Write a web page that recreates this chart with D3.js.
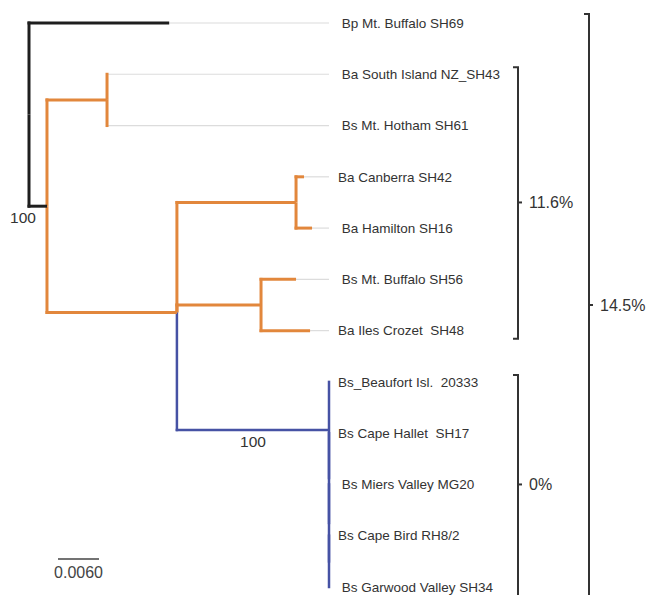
<!DOCTYPE html>
<html>
<head>
<meta charset="utf-8">
<script src="https://cdn.jsdelivr.net/npm/d3@7"></script>
<style>
  html, body { margin: 0; padding: 0; background: #fff; }
  svg { display: block; font-family: "Liberation Sans", Arial, Helvetica, sans-serif; }
  text { white-space: pre; }
</style>
</head>
<body>
<svg id="chart" width="647" height="595"></svg>
<script>
// ---- Tree data (parent table, branch lengths in substitutions/site) ----
const nodeIds   = ["root","Bp69","ingroup","cladeA","SI43","Hot61","X","CH","Can42","Ham16","BC","Buf56","Cro48","Ant","Beau","AntB","Hal17","AntC","Mie20","AntD","Bird","Gar34"];
const parentIds = ["",    "root","root",   "ingroup","cladeA","cladeA","ingroup","X","CH","CH","X","BC","BC","X","Ant","Ant","AntB","AntB","AntC","AntC","AntD","AntD"];
const branchLen = [0,     0.0205, 0.00263, 0.00878, 0,     0,      0.0190, 0.01742, 0.00117, 0.00234, 0.0123, 0.00512, 0.00717, 0.02224, 0, 0, 0, 0, 0, 0, 0, 0];
const cladeOf   = ["outgroup","outgroup","outgroup","southern","southern","southern","southern","southern","southern","southern","southern","southern","southern","antarctic","antarctic","antarctic","antarctic","antarctic","antarctic","antarctic","antarctic","antarctic"];

// leaf labels (in leaf order)
const leafIds    = ["Bp69","SI43","Hot61","Can42","Ham16","Buf56","Cro48","Beau","Hal17","Mie20","Bird","Gar34"];
const leafLabels = [" Bp Mt. Buffalo SH69"," Ba South Island NZ_SH43"," Bs Mt. Hotham SH61","Ba Canberra SH42"," Ba Hamilton SH16"," Bs Mt. Buffalo SH56","Ba Iles Crozet  SH48","Bs_Beaufort Isl.  20333","Bs Cape Hallet  SH17"," Bs Miers Valley MG20","Bs Cape Bird RH8/2"," Bs Garwood Valley SH34"];

// bootstrap labels
const bootNodes  = ["ingroup","Ant"];
const bootValues = ["100","100"];

// bracket annotations (genetic distance)
const bracketLabels = ["11.6%","14.5%","0%"];
const bracketFirst  = ["SI43","Bp69","Beau"];
const bracketLast   = ["Cro48","Gar34","Gar34"];
const bracketLevel  = [0,1,0];

// scale bar
const scaleBarValue = 0.006;
const scaleBarLabel = "0.0060";

// ---- Build ----
const svg = d3.select("#chart");
const rows = nodeIds.map((id,i)=>({id, parent: parentIds[i] || null, len: branchLen[i], clade: cladeOf[i]}));
const root = d3.stratify().id(d=>d.id).parentId(d=>d.parent)(rows);

const leafOrder = new Map(leafIds.map((d,i)=>[d,i]));
root.eachAfter(n=>{
  n.minLeaf = n.children ? d3.min(n.children, c=>c.minLeaf) : leafOrder.get(n.id);
  if (n.children) n.children.sort((a,b)=>a.minLeaf-b.minLeaf);
});
root.eachBefore(n=>{ n.depthLen = n.parent ? n.parent.depthLen + n.data.len : 0; });

const x = d3.scaleLinear().domain([0, d3.max(root.leaves(), d=>d.depthLen)]).range([29, 329]);
const y = d3.scalePoint().domain(leafIds).range([23, 587]);

root.eachAfter(n=>{
  n.py = n.children ? d3.mean(n.children, c=>c.py) : y(n.id);
  n.px = x(n.depthLen);
});

const color = d3.scaleOrdinal().domain(["outgroup","southern","antarctic"]).range(["#1e1e1e","#e2873c","#4652a4"]);
const width = d3.scaleOrdinal().domain(["outgroup","southern","antarctic"]).range([3,3,2.5]);

const gTree = svg.append("g");
const nodes = root.descendants().filter(n=>n.parent);

// leader lines from leaf tips to label column
gTree.selectAll("line.leader").data(root.leaves().filter(l=>l.px < x.range()[1]-0.5))
  .join("line").attr("class","leader")
  .attr("x1", d=>d.px).attr("x2", x.range()[1])
  .attr("y1", d=>d.py).attr("y2", d=>d.py)
  .attr("stroke","#dcdcdc").attr("stroke-width",1.2);

// vertical parts (butt caps, extended by half width at the child corner)
gTree.selectAll("line.v").data(nodes.filter(d=>Math.abs(d.py - d.parent.py) > 0.1))
  .join("line").attr("class","v")
  .attr("x1", d=>d.parent.px).attr("x2", d=>d.parent.px)
  .attr("y1", d=>d.parent.py)
  .attr("y2", d=>d.py + Math.sign(d.py - d.parent.py) * width(d.data.clade)/2)
  .attr("stroke", d=>color(d.data.clade))
  .attr("stroke-width", d=>width(d.data.clade))
  .attr("stroke-linecap","butt");

// horizontal parts
gTree.selectAll("line.h").data(nodes.filter(d=>d.px - d.parent.px > 0.1))
  .join("line").attr("class","h")
  .attr("x1", d=>d.parent.px - width(d.data.clade)/2).attr("x2", d=>d.px)
  .attr("y1", d=>d.py).attr("y2", d=>d.py)
  .attr("stroke", d=>color(d.data.clade))
  .attr("stroke-width", d=>width(d.data.clade))
  .attr("stroke-linecap","butt");

// leaf labels
svg.append("g").selectAll("text").data(leafIds)
  .join("text")
  .attr("x", x.range()[1] + 9)
  .attr("y", d=>y(d))
  .attr("dy","0.35em")
  .attr("font-size", 13.5)
  .attr("fill","#333")
  .text((d,i)=>leafLabels[i]);

// bootstrap values
const byId = new Map(root.descendants().map(n=>[n.id,n]));
bootNodes.forEach((id,i)=>{
  const n = byId.get(id);
  const cx = id === "ingroup" ? n.parent.px - 6 : (n.parent.px + n.px)/2;
  svg.append("text")
    .attr("x", cx).attr("y", n.py + 17)
    .attr("text-anchor","middle")
    .attr("font-size", 15.5)
    .attr("fill","#333")
    .text(bootValues[i]);
});

// brackets
const bracketX = [518, 589];
const gB = svg.append("g").attr("stroke","#333").attr("stroke-width",2).attr("fill","none");
bracketLabels.forEach((lab,i)=>{
  const bx = bracketX[bracketLevel[i]];
  const pad = bracketLevel[i] ? 9 : 7;
  const y0 = y(bracketFirst[i]) - pad;
  const y1 = y(bracketLast[i]) + pad + 12;
  const ym = (y(bracketFirst[i]) + y(bracketLast[i]))/2;
  gB.append("path").attr("d", `M${bx-5},${y0}H${bx}V${y1}H${bx-5}`);
  gB.append("line").attr("x1",bx).attr("x2",bx+4).attr("y1",ym).attr("y2",ym);
  svg.append("text")
    .attr("x", bx + 11).attr("y", ym).attr("dy","0.35em")
    .attr("font-size", 16).attr("fill","#333")
    .text(lab);
});
// the 11.6% bracket closes just under its last leaf
gB.selectAll("path").filter((d,i)=>i===0)
  .attr("d", ()=>{
    const bx = bracketX[0];
    return `M${bx-5},${y(bracketFirst[0])-7}H${bx}V${y(bracketLast[0])+8}H${bx-5}`;
  });

// scale bar
const sbLen = x(scaleBarValue) - x(0);
const sbX = 58, sbY = 559;
svg.append("line")
  .attr("x1", sbX).attr("x2", sbX + sbLen)
  .attr("y1", sbY).attr("y2", sbY)
  .attr("stroke","#444").attr("stroke-width",1.5);
svg.append("text")
  .attr("x", sbX + sbLen/2).attr("y", sbY + 13).attr("dy","0.35em")
  .attr("text-anchor","middle").attr("font-size", 16).attr("fill","#444")
  .text(scaleBarLabel);
</script>
</body>
</html>
